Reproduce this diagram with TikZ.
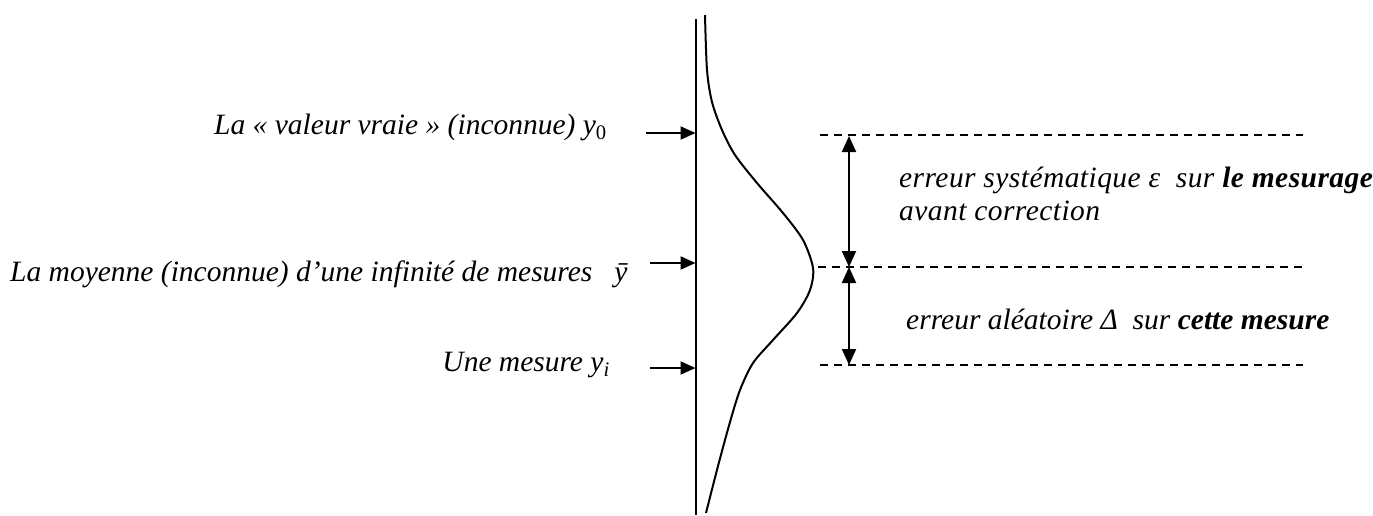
\documentclass[tikz,border=0pt]{standalone}
\usepackage{fontspec}
\setmainfont{Liberation Serif}
\newfontfamily\spacedserif[LetterSpace=1.5]{Liberation Serif}
\usetikzlibrary{arrows.meta}
\tikzset{
  lbl/.style={inner sep=0pt, font=\fontsize{29.5}{32}\selectfont\itshape},
  spacedlbl/.style={inner sep=0pt, font=\fontsize{29.5}{32}\selectfont\spacedserif\itshape},
  axisline/.style={line width=2pt},
  pointer/.style={line width=2pt, -{Triangle[length=15pt,width=13pt]}},
  dimarrow/.style={line width=2pt, {Triangle[length=16pt,width=14pt]}-{Triangle[length=16pt,width=14pt]}},
  guide/.style={line width=1.4pt, dash pattern=on 8pt off 6pt},
}
\begin{document}
\begin{tikzpicture}[x=1pt,y=-1pt]
\useasboundingbox (0,0) rectangle (1373,515);
% axis
\coordinate (axtop) at (695.5,19);
\coordinate (axbot) at (695.5,515);
\draw[axisline] (axtop) -- (axbot);
% distribution curve
\draw[line width=2pt] plot[smooth, tension=0.5] coordinates {
 (705,15) (707,70) (712,102) (722,130) (735,155) (757,183)
 (783,213) (803,240) (813,268) (810,290) (797,313) (773,340) (753,363)
 (740,390) (730,422) (718,466) (706,513)};
% pointer arrows
\coordinate (p0s) at (646,133);  \coordinate (p0e) at (695.5,133);
\coordinate (pms) at (650,263);  \coordinate (pme) at (695.5,263);
\coordinate (pis) at (650,368);  \coordinate (pie) at (695.5,368);
\draw[pointer] (p0s) -- (p0e);
\draw[pointer] (pms) -- (pme);
\draw[pointer] (pis) -- (pie);
% labels left
\node[lbl, anchor=base east] (lv) at (607,134) {La « valeur vraie » (inconnue) y\textsubscript{\upshape 0}};
\node[lbl, anchor=base west] (lm) at (10,281) {La moyenne (inconnue) d’une infinité de mesures\hspace{22pt}\=y};
\node[lbl, anchor=base east] (li) at (610,371) {Une mesure y\textsubscript{i}};
% guides
\coordinate (g1a) at (820,135); \coordinate (g1b) at (1303,135);
\coordinate (g2a) at (818,267); \coordinate (g2b) at (1303,267);
\coordinate (g3a) at (820,365); \coordinate (g3b) at (1303,365);
\draw[guide] (g1a) -- (g1b);
\draw[guide] (g2a) -- (g2b);
\draw[guide] (g3a) -- (g3b);
% dimension arrows
\coordinate (d1) at (849,136); \coordinate (d2) at (849,267); \coordinate (d3) at (849,365);
\draw[dimarrow] (d1) -- (d2);
\draw[dimarrow] (d2) -- (d3);
% labels right
\node[spacedlbl, anchor=base west] (e1) at (899,187) {erreur systématique ε\ \ sur \textbf{le mesurage}};
\node[spacedlbl, anchor=base west] (e1b) at (899,220) {avant correction};
\node[lbl, anchor=base west] (e2) at (906,329) {erreur aléatoire Δ\ \ sur \textbf{cette mesure}};
\end{tikzpicture}
\end{document}
